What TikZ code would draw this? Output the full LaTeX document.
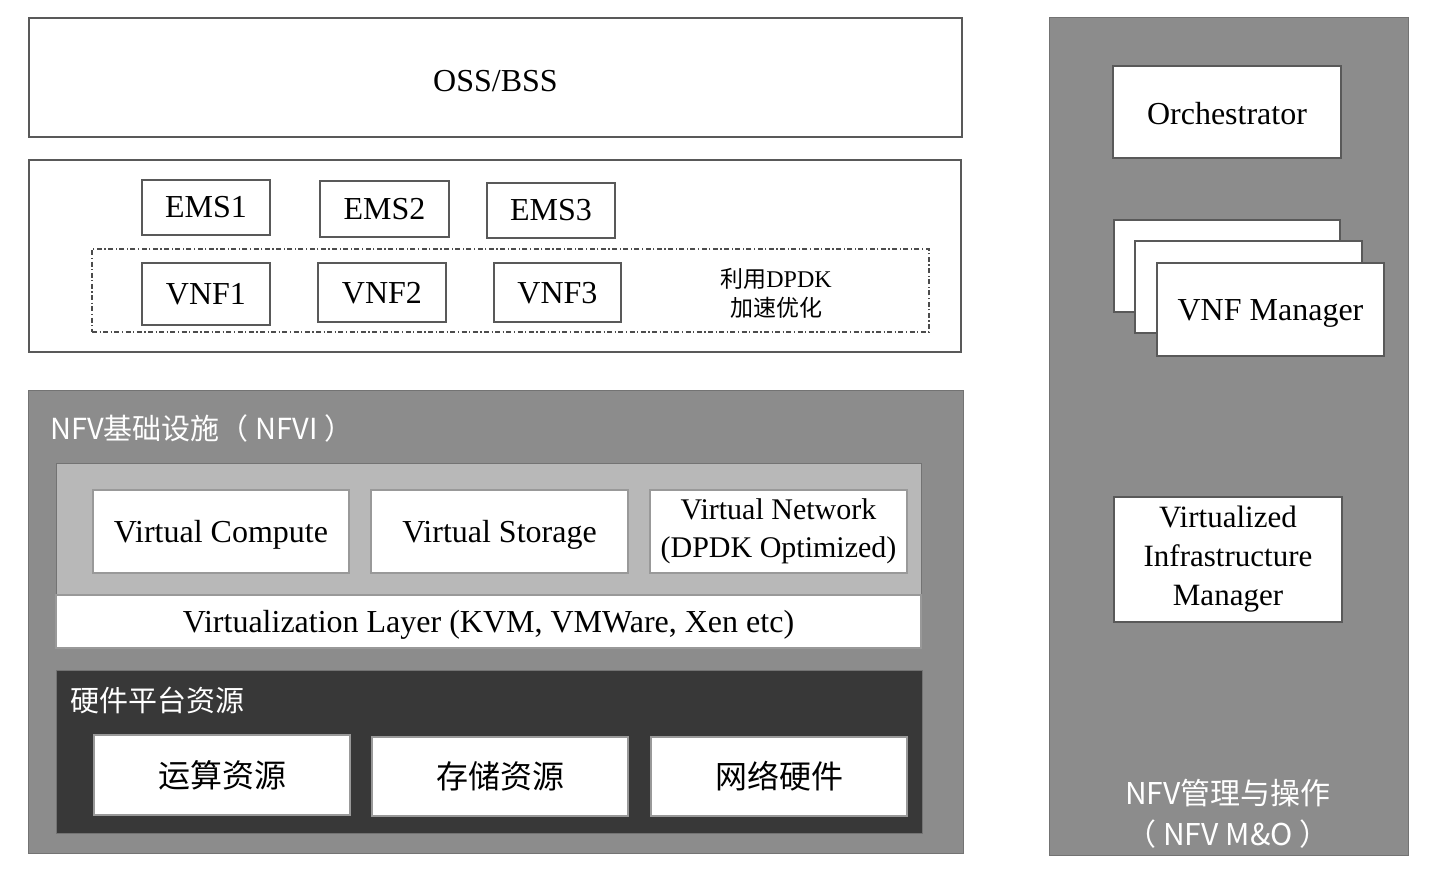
\documentclass[tikz,border=0pt]{standalone}
\usepackage{fontspec}
\setmainfont{Liberation Serif}
\newfontfamily\cjk{Noto Sans CJK SC}
\newfontfamily\cjksans{Noto Sans CJK SC}
\begin{document}
\begin{tikzpicture}[x=1pt,y=-1pt,
  wbox/.style={draw=black!65, line width=1.3pt, fill=white, inner sep=0pt, outer sep=0pt, align=center, font=\fontsize{32}{36}\selectfont},
  one/.style={text height=21pt, text depth=0pt},
  gbox/.style={draw=black!55, line width=1pt, inner sep=0pt, outer sep=0pt},
  lbl/.style={text=white, inner sep=0pt, font=\cjksans\fontsize{29}{34}\selectfont},
  zh/.style={font=\cjk\fontsize{32}{36}\selectfont}
]
\useasboundingbox (0,0) rectangle (1436,872);
\fill[white] (0,0) rectangle (1436,872);

% OSS/BSS
\node[wbox, text height=29pt, text depth=0pt, minimum width=933pt, minimum height=119pt] (oss) at (495.5,77.5) {OSS/BSS};

% EMS / VNF area
\node[wbox, minimum width=932pt, minimum height=192pt] (emsarea) at (495,256) {};
\node[draw=black!70, line width=1.2pt, dash pattern=on 5pt off 2.5pt on 1.2pt off 2.5pt, minimum width=837pt, minimum height=83pt, inner sep=0pt] (dpdkbox) at (510.5,290.5) {};
\node[wbox, one, minimum width=128pt, minimum height=55pt] (ems1) at (206,207.5) {EMS1};
\node[wbox, one, minimum width=129pt, minimum height=56pt] (ems2) at (384.5,209) {EMS2};
\node[wbox, one, minimum width=128pt, minimum height=55pt] (ems3) at (551,210.5) {EMS3};
\node[wbox, one, minimum width=128pt, minimum height=62pt] (vnf1) at (206,294) {VNF1};
\node[wbox, one, minimum width=128pt, minimum height=59pt] (vnf2) at (382,292.5) {VNF2};
\node[wbox, one, minimum width=127pt, minimum height=59pt] (vnf3) at (557.5,292.5) {VNF3};
\node[align=center, inner sep=0pt, font=\fontsize{24}{29}\selectfont] (dpdk) at (776,293) {{\cjk\fontsize{23}{29}\selectfont 利用}DPDK\\{\cjk\fontsize{23}{29}\selectfont 加速优化}};

% NFVI
\node[gbox, fill=black!45, minimum width=935pt, minimum height=463pt] (nfvi) at (495.5,621.5) {};
\node[lbl, anchor=west] (nfvilbl) at (50,428) {NFV基础设施（ NFVI ）};
\node[gbox, fill=black!28, minimum width=865pt, minimum height=132pt] (virt) at (488.5,529) {};
\node[wbox, one, draw=black!40, minimum width=865pt, minimum height=53pt] (vlayer) at (488.5,621.5) {Virtualization Layer (KVM, VMWare, Xen etc)};
\node[wbox, one, draw=black!40, minimum width=256pt, minimum height=83pt] (vc) at (221,531.5) {Virtual Compute};
\node[wbox, one, draw=black!40, minimum width=257pt, minimum height=83pt] (vs) at (499.5,531.5) {Virtual Storage};
\node[wbox, draw=black!40, minimum width=257pt, minimum height=83pt, font=\fontsize{30}{38}\selectfont] (vn) at (778.5,531.5) {Virtual Network\\(DPDK Optimized)};

% Hardware
\node[gbox, fill=black!78, minimum width=866pt, minimum height=163pt] (hw) at (489,751.5) {};
\node[lbl, anchor=west] (hwlbl) at (70,700) {硬件平台资源};
\node[wbox, draw=black!40, minimum width=256pt, minimum height=80pt, zh] (r1) at (222,775) {运算资源};
\node[wbox, draw=black!40, minimum width=256pt, minimum height=79pt, zh] (r2) at (500,776.5) {存储资源};
\node[wbox, draw=black!40, minimum width=256pt, minimum height=79pt, zh] (r3) at (779,776.5) {网络硬件};

% NFV M&O
\node[gbox, fill=black!45, minimum width=359pt, minimum height=837pt] (mo) at (1228.5,436.5) {};
\node[wbox, text height=25pt, text depth=0pt, minimum width=228pt, minimum height=92pt] (orch) at (1227,112) {Orchestrator};
\node[wbox, minimum width=226pt, minimum height=92pt] (vnfm3) at (1227,266) {};
\node[wbox, minimum width=227pt, minimum height=92pt] (vnfm2) at (1248.5,287) {};
\node[wbox, one, minimum width=227pt, minimum height=93pt] (vnfm) at (1270.5,309.5) {VNF Manager};
\node[wbox, minimum width=228pt, minimum height=125pt, font=\fontsize{31}{39}\selectfont] (vim) at (1228,559.5) {Virtualized\\Infrastructure\\Manager};
\node[lbl, align=center, font=\cjksans\fontsize{30}{41}\selectfont] (molbl) at (1228,813.5) {NFV管理与操作\\（ NFV M\&O ）};
\end{tikzpicture}
\end{document}
